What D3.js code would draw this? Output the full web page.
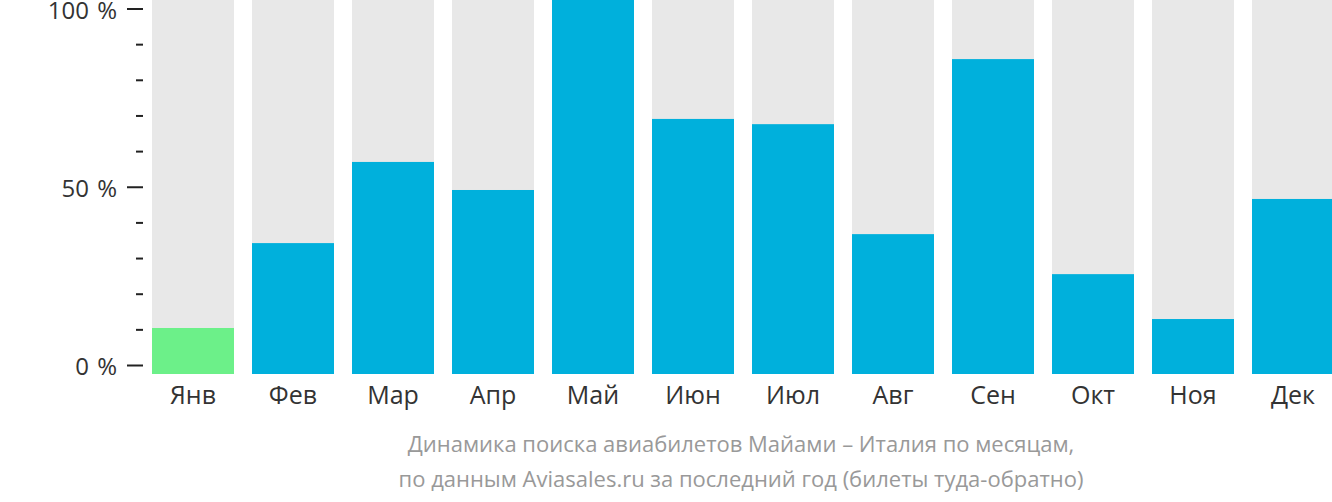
<!DOCTYPE html>
<html><head><meta charset="utf-8">
<script src="https://cdn.jsdelivr.net/npm/d3@7"></script>
<style>body{margin:0;background:#fff}svg{display:block;font-family:"Open Sans",sans-serif}</style>
</head><body><svg id="c" width="1332" height="502"></svg>
<script>
const months = ["Янв","Фев","Мар","Апр","Май","Июн","Июл","Авг","Сен","Окт","Ноя","Дек"];
const values = [12.3,35.0,56.7,49.2,100,68.2,66.8,37.4,84.2,26.7,14.7,46.8];
const highlight = ["Янв"];
const tickValues = [0,50,100];
const minorTicks = [10,20,30,40,60,70,80,90];
const captionLines = ["Динамика поиска авиабилетов Майами – Италия по месяцам,","по данным Aviasales.ru за последний год (билеты туда-обратно)"];

const svg = d3.select("#c");
const x = d3.scaleBand().domain(months).range([143,1343]).paddingInner(0.18).paddingOuter(0.09);
const yBar = d3.scaleLinear().domain([0,100]).range([374,0]);
const yAxis = d3.scaleLinear().domain([0,100]).range([365,8.5]);

svg.append("g").selectAll("rect").data(months).join("rect")
  .attr("x",d=>x(d)).attr("width",x.bandwidth()).attr("y",yBar(100)).attr("height",yBar(0)-yBar(100)).attr("fill","#e8e8e8");
svg.append("g").selectAll("rect").data(values).join("rect")
  .attr("x",(d,i)=>x(months[i])).attr("width",x.bandwidth())
  .attr("y",d=>yBar(d)).attr("height",d=>yBar(0)-yBar(d))
  .attr("fill",(d,i)=>highlight.includes(months[i])?"#6cf089":"#00b0dc");

const ax = svg.append("g").attr("transform","translate(143,0)")
  .call(d3.axisLeft(yAxis).tickValues(tickValues).tickSize(16).tickPadding(10).tickFormat(d=>d+" %"));
ax.select(".domain").remove();
ax.selectAll("line").attr("stroke","#222").attr("stroke-width",2);
ax.selectAll("text").attr("font-size",24).attr("fill","#333").attr("font-family","Open Sans")
  .attr("dy","0.41em").attr("word-spacing",2);
const mx = svg.append("g").attr("transform","translate(143,0)")
  .call(d3.axisLeft(yAxis).tickValues(minorTicks).tickSize(7).tickFormat(""));
mx.select(".domain").remove();
mx.selectAll("line").attr("stroke","#222").attr("stroke-width",2);

const bx = svg.append("g").attr("transform","translate(0,374)")
  .call(d3.axisBottom(x).tickSize(0).tickPadding(12));
bx.select(".domain").remove();
bx.selectAll("text").attr("font-size",25).attr("fill","#333").attr("font-family","Open Sans");

svg.append("g").selectAll("text").data(captionLines).join("text")
  .attr("x",741).attr("y",(d,i)=>452+i*35).attr("text-anchor","middle")
  .attr("font-size",22).attr("fill","#999").text(d=>d);
</script></body></html>
